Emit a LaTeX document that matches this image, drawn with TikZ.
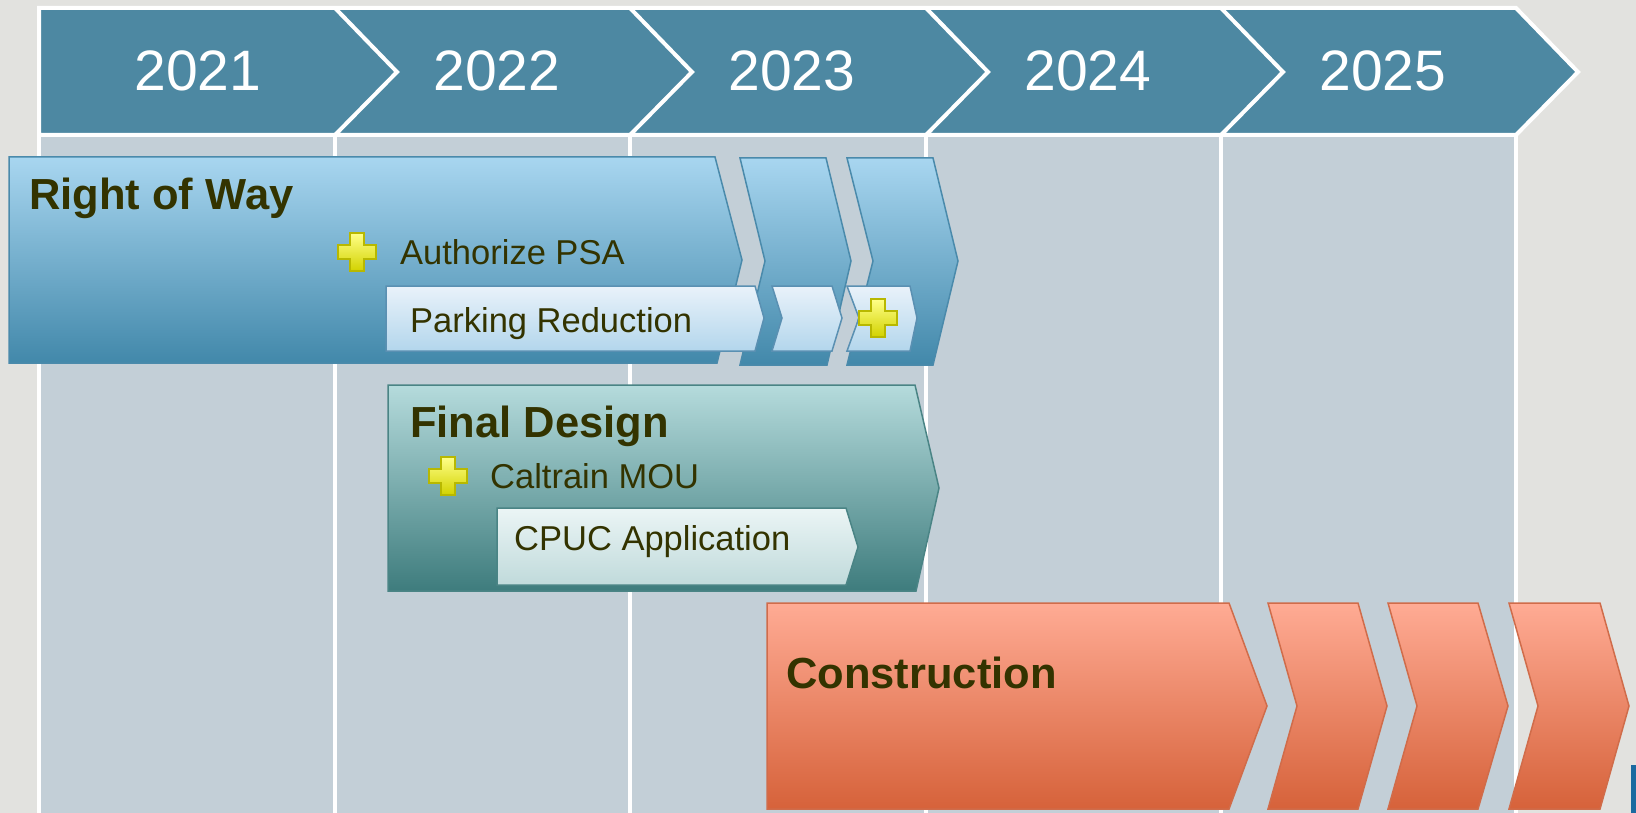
\documentclass[tikz,border=0pt]{standalone}
\usepackage{fontspec}
\setmainfont{Liberation Sans}
\definecolor{bgcol}{HTML}{E2E2DF}
\definecolor{colbody}{HTML}{C3CFD7}
\definecolor{headcol}{HTML}{4D88A2}
\definecolor{txtcol}{HTML}{333300}
\definecolor{rowtop}{HTML}{A8D6F0}
\definecolor{rowbot}{HTML}{4288AA}
\definecolor{rowedge}{HTML}{4A8AAB}
\definecolor{pktop}{HTML}{E9F2FA}
\definecolor{pkbot}{HTML}{B3D6EC}
\definecolor{pkedge}{HTML}{5A90B2}
\definecolor{fdtop}{HTML}{B5DBDC}
\definecolor{fdbot}{HTML}{3E7C7D}
\definecolor{fdedge}{HTML}{4A8485}
\definecolor{cptop}{HTML}{EBF5F5}
\definecolor{cpbot}{HTML}{C0DADB}
\definecolor{cstop}{HTML}{FFAB94}
\definecolor{csbot}{HTML}{D6623A}
\definecolor{csedge}{HTML}{D06C4A}
\definecolor{plustop}{HTML}{FFFF88}
\definecolor{plusbot}{HTML}{D2D200}
\definecolor{plusedge}{HTML}{B8B800}
\definecolor{logoblue}{HTML}{1B6AA0}
\tikzset{
  yeartext/.style={text=white, font=\fontsize{57}{60}\selectfont, inner sep=0pt, anchor=base},
  bigtext/.style={text=txtcol, font=\fontsize{43.5}{46}\selectfont\bfseries, inner sep=0pt, anchor=base west},
  smalltext/.style={text=txtcol, font=\fontsize{34.5}{38}\selectfont, inner sep=0pt, anchor=base west},
  gridline/.style={white, line width=4pt},
  rowshape/.style={top color=rowtop, bottom color=rowbot, draw=rowedge, line width=1.5pt, line join=miter},
  pkshape/.style={top color=pktop, bottom color=pkbot, draw=pkedge, line width=1.5pt},
  fdshape/.style={top color=fdtop, bottom color=fdbot, draw=fdedge, line width=1.5pt},
  cpshape/.style={top color=cptop, bottom color=cpbot, draw=fdedge, line width=1.5pt},
  csshape/.style={top color=cstop, bottom color=csbot, draw=csedge, line width=1.5pt},
  plusicon/.pic={
    \path[top color=plustop, bottom color=plusbot, draw=plusedge, line width=1.5pt]
      (-7,-19) -- (7,-19) -- (7,-7) -- (19,-7) -- (19,7) -- (7,7) -- (7,19)
      -- (-7,19) -- (-7,7) -- (-19,7) -- (-19,-7) -- (-7,-7) -- cycle;
  }
}
\begin{document}
\begin{tikzpicture}[x=1pt,y=-1pt]
\useasboundingbox (0,0) rectangle (1636,813);
\fill[bgcol] (0,0) rectangle (1636,813);
% column bodies
\fill[colbody] (39,135) rectangle (1516,813);
\foreach \cx in {39,335,630,926,1221,1516}
  \draw[gridline] (\cx,133) -- (\cx,813);
% header
\path[fill=headcol, draw=white, line width=4pt, line join=miter]
  (39,8) -- (1516,8) -- (1578,72) -- (1516,135) -- (39,135) -- cycle;
\foreach \cx in {335,630,926,1221}
  \draw[gridline, line join=miter] (\cx,8) -- (\cx+62,72) -- (\cx,135);
\node[yeartext] (y21) at (198,91) {2021};
\node[yeartext] (y22) at (497,91) {2022};
\node[yeartext] (y23) at (792,91) {2023};
\node[yeartext] (y24) at (1088,91) {2024};
\node[yeartext] (y25) at (1383,91) {2025};
% Right of Way
\path[rowshape] (9,157) -- (715,157) -- (742,260) -- (717,363) -- (9,363) -- cycle;
\path[rowshape] (740,158) -- (826,158) -- (851,261) -- (827,365) -- (740,365) -- (765,261) -- cycle;
\path[rowshape] (847,158) -- (933,158) -- (958,261) -- (933,365) -- (847,365) -- (873,261) -- cycle;
\path[pkshape] (386,286) -- (755,286) -- (764,318) -- (755,351) -- (386,351) -- cycle;
\path[pkshape] (772,286) -- (832,286) -- (842,318) -- (832,351) -- (772,351) -- (782,318) -- cycle;
\path[pkshape] (847,286) -- (910,286) -- (917,318) -- (910,351) -- (847,351) -- (859,318) -- cycle;
\node[bigtext] (row) at (29,210) {Right of Way};
\pic at (357,252) {plusicon};
\node[smalltext] (psa) at (400,265) {Authorize PSA};
\node[smalltext] (park) at (410,332) {Parking Reduction};
\pic at (878,318) {plusicon};
% Final Design
\path[fdshape] (388,385) -- (915,385) -- (939,488) -- (916,591) -- (388,591) -- cycle;
\path[cpshape] (497,508) -- (846,508) -- (858,547) -- (846,585) -- (497,585) -- cycle;
\node[bigtext] (fd) at (410,437) {Final Design};
\pic at (448,476) {plusicon};
\node[smalltext] (mou) at (490,488) {Caltrain MOU};
\node[smalltext] (cpuc) at (514,550) {CPUC Application};
% Construction
\path[csshape] (767,603) -- (1229,603) -- (1267,706) -- (1229,809) -- (767,809) -- cycle;
\path[csshape] (1268,603) -- (1358,603) -- (1387,706) -- (1358,809) -- (1268,809) -- (1297,706) -- cycle;
\path[csshape] (1388,603) -- (1478,603) -- (1508,706) -- (1478,809) -- (1388,809) -- (1417,706) -- cycle;
\path[csshape] (1509,603) -- (1600,603) -- (1629,706) -- (1600,809) -- (1509,809) -- (1538,706) -- cycle;
\node[bigtext] (cons) at (786,688) {Construction};
% partial logo at the corner
\fill[logoblue] (1631,765) rectangle (1636,813);
\end{tikzpicture}
\end{document}
